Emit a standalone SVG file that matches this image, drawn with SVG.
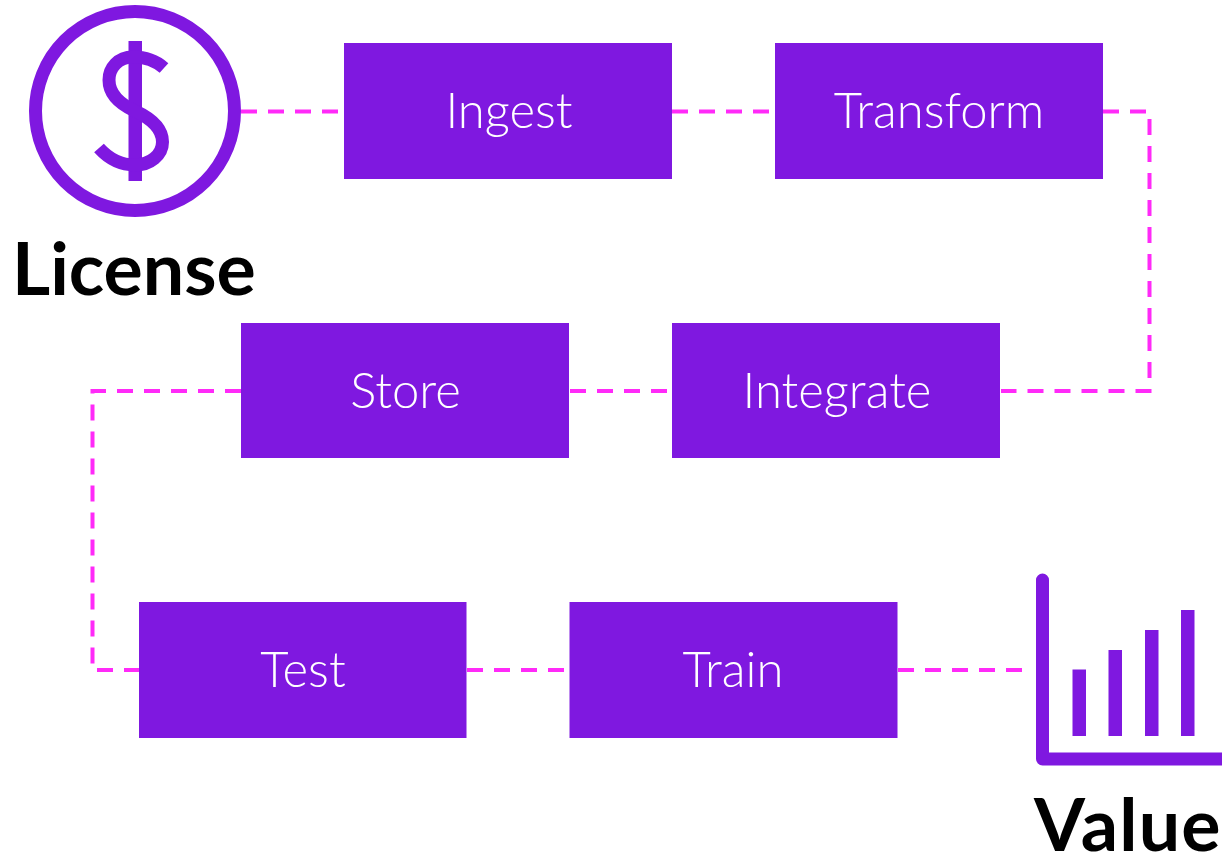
<svg xmlns="http://www.w3.org/2000/svg" width="1222" height="855" viewBox="0 0 1222 855">
<style>
.box{fill:#7f18e0}
.lbl{font-family:"Lato","Liberation Sans",sans-serif;font-weight:300;font-size:49px;fill:#fff;text-anchor:middle}
.big{font-family:"Lato","Liberation Sans",sans-serif;font-weight:700;font-size:73.500px;fill:#000}
.ink{fill:none;stroke:#7f18e0;stroke-width:13}
.bar{fill:#7f18e0}
.dash{fill:none;stroke:#ff2af8;stroke-width:4;stroke-dasharray:16 11}
</style>
<rect width="1222" height="855" fill="#fff"/>
<g id="connectors">
<path class="dash" d="M241 111.500H339"/>
<path class="dash" d="M672 111.500H770"/>
<path class="dash" d="M1103 111.500H1149.500V391H1001"/>
<path class="dash" d="M570 391H668"/>
<path class="dash" d="M241 391H92.500V670H139"/>
<path class="dash" d="M467 670H565"/>
<path class="dash" d="M898 670H1022"/>
</g>
<g id="license">
<circle class="ink" cx="135" cy="111" r="99.500"/>
<rect class="bar" x="128.500" y="41" width="13.500" height="140"/>
<path class="ink" d="M164 68C155 60 145 57 133 57C118 57 109 68 109 80C109 95 122 105 135 111C150 118 162.500 127 162.500 142C162.500 155 150 165 135 165C120 165 108 158 99 148"/>
<text class="big" x="12" y="295">License</text>
</g>
<g id="ingest"><rect class="box" x="344" y="43" width="328" height="136"/><text class="lbl" x="509" y="128">Ingest</text></g>
<g id="transform"><rect class="box" x="775" y="43" width="328" height="136"/><text class="lbl" x="939" y="128">Transform</text></g>
<g id="integrate"><rect class="box" x="672" y="323" width="328" height="135"/><text class="lbl" x="837" y="408">Integrate</text></g>
<g id="store"><rect class="box" x="241" y="323" width="328" height="135"/><text class="lbl" x="405.500" y="408">Store</text></g>
<g id="test"><rect class="box" x="139" y="602" width="327.500" height="136"/><text class="lbl" x="303" y="687">Test</text></g>
<g id="train"><rect class="box" x="569.500" y="602" width="328" height="136"/><text class="lbl" x="733" y="687">Train</text></g>
<g id="value">
<path class="ink" stroke-linecap="round" stroke-linejoin="round" d="M1042.500 580V759H1240"/>
<rect class="bar" x="1072.500" y="669.500" width="13.500" height="66.500"/>
<rect class="bar" x="1108.500" y="650" width="13.500" height="86"/>
<rect class="bar" x="1145" y="630" width="13.500" height="106"/>
<rect class="bar" x="1181" y="610" width="13.500" height="126"/>
<text class="big" x="1034" y="851" letter-spacing="1.200">Value</text>
</g>
</svg>
